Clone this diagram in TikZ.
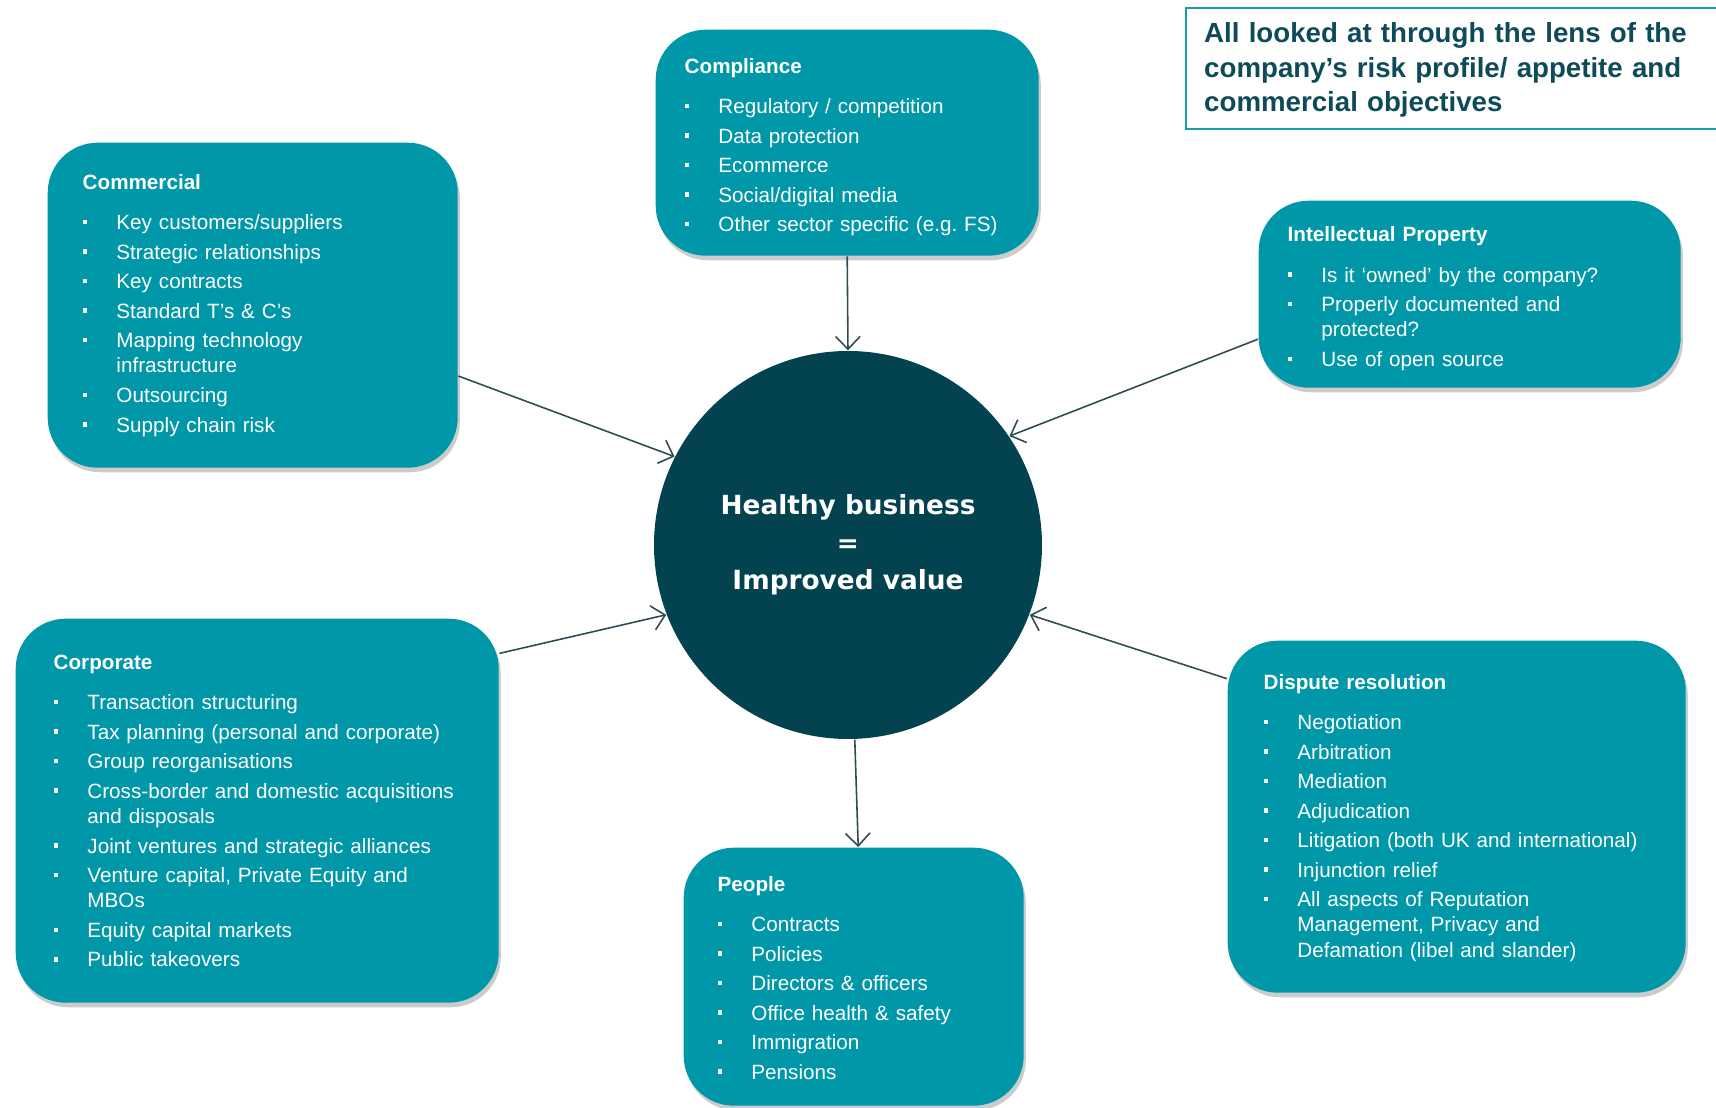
\documentclass[tikz,border=0pt]{standalone}
\usepackage{fontspec}
\setmainfont{Liberation Sans}
\newfontfamily\hubfont{DejaVu Sans}
\usetikzlibrary{arrows.meta, shadows}
\frenchspacing

\definecolor{topicteal}{HTML}{0097A9}
\definecolor{hubteal}{HTML}{03434F}
\definecolor{lensink}{HTML}{0E4B59}
\definecolor{lensline}{HTML}{1C9BAB}
\definecolor{feedgrey}{HTML}{2F4C54}

% optional argument: height of the first line (nudges the text up or down)
\newcommand{\topichead}[2][6.8pt]{\noindent\rule{0pt}{#1}{\bfseries #2}\par\vspace{3.1pt}}
\newcommand{\topicitem}[1]{\par\hangindent=9.6pt\hangafter=1\noindent
  \makebox[9.6pt][l]{\rule[1.5pt]{1.3pt}{1.3pt}}#1\par}

\begin{document}
\begin{tikzpicture}[
    topic/.style={fill=topicteal, text=white, rounded corners=0.5cm, anchor=north west,
      align=left, inner ysep=0pt,
      font=\fontsize{5.88}{7.2}\selectfont\setlength{\parskip}{1.2pt},
      drop shadow={shadow xshift=0.6pt, shadow yshift=-1.3pt, opacity=0.4}},
    hub/.style={circle, fill=hubteal, text=white, minimum size=3.88cm, inner sep=0pt,
      align=center, font=\hubfont\bfseries\fontsize{7.5}{10.7}\selectfont},
    lens/.style={draw=lensline, line width=0.7pt, anchor=north west, align=left,
      text=lensink, inner xsep=0.18cm, inner ysep=0pt, minimum height=1.21cm,
      font=\bfseries\fontsize{7.87}{9.8}\selectfont},
    feed/.style={draw=feedgrey, line width=0.45pt, -{Straight Barb[length=3.6pt, width=7pt]}}]
    \useasboundingbox (0, 0) rectangle (17.16, 11.08);

    \node [hub] (hub) at (8.48, 5.63) {Healthy business\\=\\Improved value};

    \node [topic, text width=3.40cm, inner xsep=0.35cm, minimum height=3.25cm] (commercial) at (0.47, 9.66) {
      \topichead[4.3pt]{Commercial}
      \topicitem{Key customers/suppliers}
      \topicitem{Strategic relationships}
      \topicitem{Key contracts}
      \topicitem{Standard T’s \& C’s}
      \topicitem{Mapping technology\newline infrastructure}
      \topicitem{Outsourcing}
      \topicitem{Supply chain risk}};
    \node [topic, text width=3.25cm, inner xsep=0.29cm, minimum height=2.26cm] (compliance) at (6.55, 10.79) {
      \topichead{Compliance}
      \topicitem{Regulatory / competition}
      \topicitem{Data protection}
      \topicitem{Ecommerce}
      \topicitem{Social/digital media}
      \topicitem{Other sector specific (e.g. FS)}};
    \node [topic, text width=3.64cm, inner xsep=0.29cm, minimum height=1.87cm] (ipbox) at (12.58, 9.08) {
      \topichead{Intellectual Property}
      \topicitem{Is it ‘owned’ by the company?}
      \topicitem{Properly documented and\newline protected?}
      \topicitem{Use of open source}};
    \node [topic, text width=4.07cm, inner xsep=0.38cm, minimum height=3.84cm] (corporate) at (0.15, 4.90) {
      \topichead[4.3pt]{Corporate}
      \topicitem{Transaction structuring}
      \topicitem{Tax planning (personal and corporate)}
      \topicitem{Group reorganisations}
      \topicitem{Cross-border and domestic acquisitions\newline and disposals}
      \topicitem{Joint ventures and strategic alliances}
      \topicitem{Venture capital, Private Equity and\newline MBOs}
      \topicitem{Equity capital markets}
      \topicitem{Public takeovers}};
    \node [topic, text width=2.72cm, inner xsep=0.34cm, minimum height=2.58cm] (people) at (6.83, 2.61) {
      \topichead[4.9pt]{People}
      \topicitem{Contracts}
      \topicitem{Policies}
      \topicitem{Directors \& officers}
      \topicitem{Office health \& safety}
      \topicitem{Immigration}
      \topicitem{Pensions}};
    \node [topic, text width=3.86cm, inner xsep=0.36cm, minimum height=3.52cm] (dispute) at (12.27, 4.68) {
      \topichead[4.9pt]{Dispute resolution}
      \topicitem{Negotiation}
      \topicitem{Arbitration}
      \topicitem{Mediation}
      \topicitem{Adjudication}
      \topicitem{Litigation (both UK and international)}
      \topicitem{Injunction relief}
      \topicitem{All aspects of Reputation\newline Management, Privacy and\newline Defamation (libel and slander)}};

    \node [lens, text width=5.04cm] (lens) at (11.85, 11.01) {\rule{0pt}{6.45pt}All looked at through the lens of the\\
      company’s risk profile/ appetite and\\commercial objectives};

    % everything feeds into the centre
    \draw [feed] (commercial.-19) -- (hub.153);
    \draw [feed] (compliance.south) -- (hub.north);
    \draw [feed] (ipbox.-168) -- (hub.34);
    \draw [feed] (corporate.33) -- (hub.-159);
    \draw [feed] (dispute.149) -- (hub.-21);
    \draw [feed] (hub.-88) -- (people.88);
\end{tikzpicture}
\end{document}
